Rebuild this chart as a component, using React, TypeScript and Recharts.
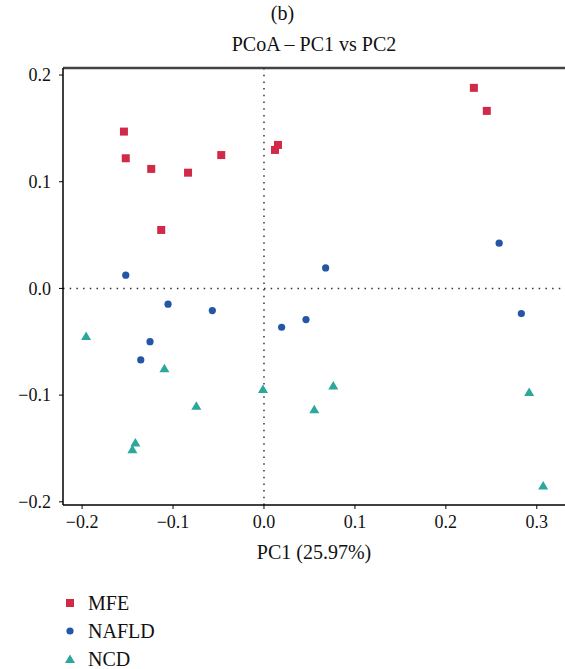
import React from 'react';
import {
  ScatterChart,
  Scatter,
  XAxis,
  YAxis,
  ReferenceLine,
} from 'recharts';

const mfeX = [-0.154, -0.152, -0.124, -0.0835, -0.047, -0.113, 0.0121, 0.0154, 0.2308, 0.245];
const mfeY = [0.147, 0.122, 0.112, 0.1085, 0.125, 0.0548, 0.1298, 0.1345, 0.188, 0.1664];

const nafldX = [-0.152, 0.0678, 0.2586, 0.283, -0.0568, 0.0194, 0.0462, -0.1055, -0.1253, -0.1355];
const nafldY = [0.0124, 0.0192, 0.0424, -0.0236, -0.0208, -0.0364, -0.0292, -0.0148, -0.0499, -0.067];

const ncdX = [-0.1956, -0.1095, -0.0011, -0.0744, -0.1414, -0.1447, 0.0762, 0.0553, 0.2916, 0.307];
const ncdY = [-0.0445, -0.0748, -0.0942, -0.11, -0.1445, -0.1507, -0.0911, -0.1132, -0.097, -0.1848];

const xTicks = [-0.2, -0.1, 0, 0.1, 0.2, 0.3];
const yTicks = [-0.2, -0.1, 0, 0.1, 0.2];

const groups = ['MFE', 'NAFLD', 'NCD'];
const COLORS = ['#d12a48', '#2357a6', '#2ba79c'];

const toPoints = (xs: number[], ys: number[]) => xs.map((x, i) => ({ x, y: ys[i] }));

const mfeData = toPoints(mfeX, mfeY);
const nafldData = toPoints(nafldX, nafldY);
const ncdData = toPoints(ncdX, ncdY);

const FONT = '"Liberation Serif", "Times New Roman", serif';

const fmt = (v: number) => (v < 0 ? '\u2212' : '') + Math.abs(v).toFixed(1);

const Square = (props: any) => {
  const { cx, cy, fill } = props;
  return <rect x={cx - 4} y={cy - 4} width={8} height={8} fill={fill} />;
};

const Dot = (props: any) => {
  const { cx, cy, fill } = props;
  return <circle cx={cx} cy={cy} r={3.6} fill={fill} />;
};

const Tri = (props: any) => {
  const { cx, cy, fill } = props;
  return <polygon points={`${cx},${cy - 4.5} ${cx + 5},${cy + 4} ${cx - 5},${cy + 4}`} fill={fill} />;
};

const legendMarks = [
  <rect key="s" x={2} y={2} width={8} height={8} fill={COLORS[0]} />,
  <circle key="c" cx={6} cy={6} r={3.6} fill={COLORS[1]} />,
  <polygon key="t" points="6,1.5 11,10 1,10" fill={COLORS[2]} />,
];

const dotted = { stroke: '#333', strokeWidth: 1.5, strokeDasharray: '1.5 5.2' };

export default function App() {
  return (
    <div style={{ position: 'absolute', left: 0, top: 0, width: 565, height: 669, background: '#fff', fontFamily: FONT }}>
      <div style={{ position: 'absolute', top: 2, left: 0, width: 565, textAlign: 'center', fontSize: 20, color: '#111' }}>(b)</div>
      <div style={{ position: 'absolute', top: 33, left: 63, width: 502, textAlign: 'center', fontSize: 20, color: '#111' }}>
        PCoA – PC1 vs PC2
      </div>
      <ScatterChart width={565} height={669} margin={{ top: 68, right: 0, bottom: 104, left: 0 }}>
        <XAxis
          type="number"
          dataKey="x"
          domain={[-0.221, 0.331]}
          ticks={xTicks}
          tickFormatter={fmt}
          allowDataOverflow
          height={60}
          tickSize={4}
          tickMargin={6}
          axisLine={{ stroke: '#000', strokeWidth: 1.5 }}
          tickLine={{ stroke: '#000' }}
          tick={{ fill: '#111', fontSize: 18, fontFamily: FONT }}
          label={{ value: 'PC1 (25.97%)', position: 'insideBottom', offset: 6, fill: '#111', fontSize: 20, fontFamily: FONT }}
        />
        <YAxis
          type="number"
          dataKey="y"
          domain={[-0.203, 0.2066]}
          ticks={yTicks}
          tickFormatter={fmt}
          allowDataOverflow
          width={63}
          tickSize={4}
          tickMargin={8}
          axisLine={{ stroke: '#000', strokeWidth: 1.5 }}
          tickLine={{ stroke: '#000' }}
          tick={{ fill: '#111', fontSize: 18, fontFamily: FONT }}
        />
        <ReferenceLine y={0.2066} stroke="#444" strokeWidth={2.5} />
        <ReferenceLine y={0} {...dotted} />
        <ReferenceLine x={0} {...dotted} />
        <Scatter name="MFE" data={mfeData} fill={COLORS[0]} shape={Square} isAnimationActive={false} />
        <Scatter name="NAFLD" data={nafldData} fill={COLORS[1]} shape={Dot} isAnimationActive={false} />
        <Scatter name="NCD" data={ncdData} fill={COLORS[2]} shape={Tri} isAnimationActive={false} />
      </ScatterChart>
      <div style={{ position: 'absolute', left: 64, top: 589 }}>
        {groups.map((g, i) => (
          <div key={g} style={{ display: 'flex', alignItems: 'center', height: 28, fontSize: 20, color: '#111' }}>
            <svg width={12} height={12} style={{ marginRight: 12 }}>
              {legendMarks[i]}
            </svg>
            {g}
          </div>
        ))}
      </div>
    </div>
  );
}
